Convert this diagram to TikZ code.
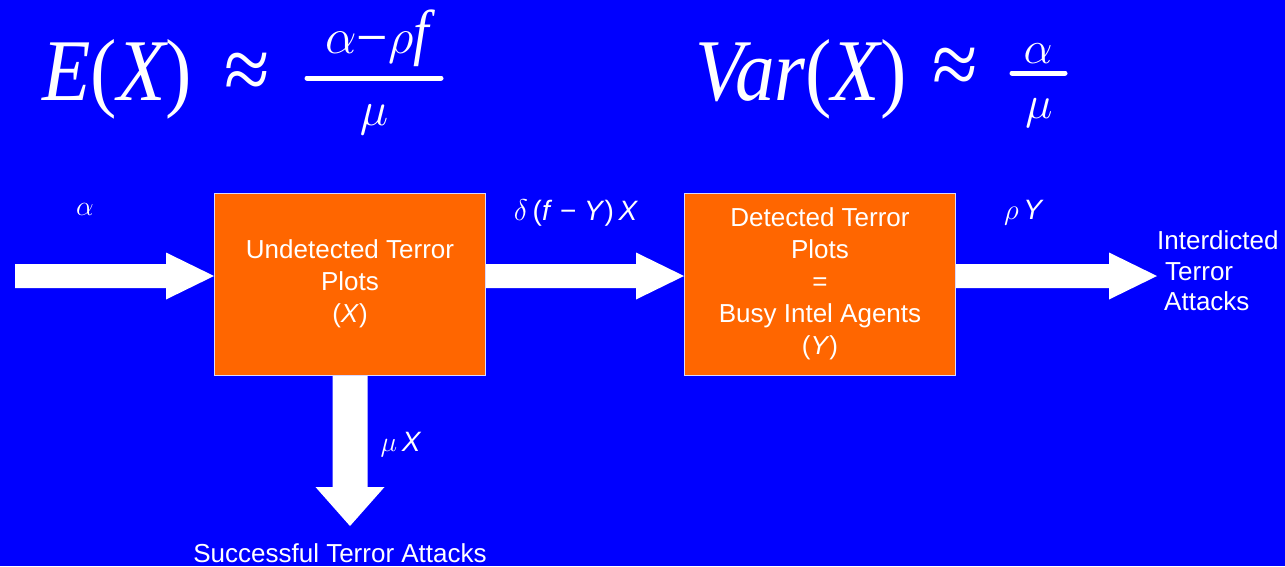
\documentclass[tikz,border=0pt]{standalone}
\usepackage{fix-cm}
\usepackage{fontspec}
\usepackage{graphicx}
\setmainfont{Liberation Sans}
\newfontfamily\serif{Liberation Serif}
\usetikzlibrary{calc,backgrounds}
\definecolor{bg}{RGB}{0,0,255}
\definecolor{boxfill}{RGB}{255,102,0}
\newcommand\gs[2]{{\fontsize{#1}{#1}\selectfont$#2$}}
\newcommand\fm[2]{\scalebox{0.9}[1]{\serif\fontsize{#1}{#1}\selectfont #2}}
\newcommand\harrow[2]{%
  \fill[arrfill] ($(#1)+(0,-12)$) -- ($(#2)+(-48,-12)$) -- ($(#2)+(-48,-23.5)$) -- (#2)
    -- ($(#2)+(-48,23.5)$) -- ($(#2)+(-48,12)$) -- ($(#1)+(0,12)$) -- cycle;}
\begin{document}
\begin{tikzpicture}[x=1pt,y=-1pt,
  plotbox/.style={draw=white!85!blue, line width=1pt, fill=boxfill, minimum width=271pt,
    minimum height=182pt, inner sep=0pt, align=center, text=white,
    font=\fontsize{26}{32}\selectfont},
  lbl/.style={text=white, inner sep=0pt, font=\fontsize{28}{30}\selectfont},
  fml/.style={text=white, inner sep=0pt},
  arrfill/.style={fill=white}]
\useasboundingbox (0,0) rectangle (1285,566);

% formulas
\node[fml, anchor=base] (ex) at (117,100) {\fm{88}{\itshape E\upshape(\itshape X\upshape)}};
\node[fml] (ap1) at (247,77) {\fm{92}{≈}};
\node[fml, anchor=base] (n1) at (377,53) {\gs{50}{\alpha}\fm{62}{\raisebox{-5pt}{−}}\gs{50}{\rho}\fm{62}{\itshape f}};
\node[fml, anchor=base] (d1) at (374,125) {\gs{48}{\mu}};
\coordinate (f1a) at (307,78);
\coordinate (f1b) at (441,78);
\draw[white, line width=5pt, line cap=round] (f1a) -- (f1b);

\node[fml, anchor=base] (vx) at (801,100) {\fm{88}{\itshape Var\upshape(\itshape X\upshape)}};
\node[fml] (ap2) at (955,72) {\fm{92}{≈}};
\node[fml, anchor=base] (n2) at (1038,63) {\gs{46}{\alpha}};
\node[fml, anchor=base] (d2) at (1039,118) {\gs{46}{\mu}};
\coordinate (f2a) at (1012,73);
\coordinate (f2b) at (1065,73);
\draw[white, line width=5pt, line cap=round] (f2a) -- (f2b);

% boxes
\node[plotbox] (b1) at (350,284) {Undetected Terror\\Plots\\(\textit{X})};
\node[plotbox] (b2) at (820,284) {Detected Terror\\Plots\\=\\Busy Intel Agents\\(\textit{Y})};

% end texts
\node[text=white, inner sep=0pt, anchor=west, align=left, font=\fontsize{26}{30.5}\selectfont]
  (it) at (1157,271) {Interdicted\\\hspace*{8pt}Terror\\\hspace*{7pt}Attacks};
\node[text=white, inner sep=0pt, font=\fontsize{26}{30}\selectfont] (sta) at (340,553) {Successful Terror Attacks};

% labels
\node[lbl] (la) at (85,209) {\gs{28}{\alpha}};
\node[lbl] (ld) at (576,213) {\gs{30}{\delta}\,(\textit{f}\ −\ \textit{Y})\,\textit{X}};
\node[lbl] (lr) at (1024,213) {\gs{29}{\rho}\,\textit{Y}};
\node[lbl] (lm) at (401,445) {\gs{28}{\mu}\,\textit{X}};

% arrows
\coordinate (a0) at (15,276);
\coordinate (t1) at (b1.west|-a0);
\coordinate (s2) at (b1.east|-a0);
\coordinate (t2) at (b2.west|-a0);
\coordinate (s3) at (b2.east|-a0);
\coordinate (t3) at (it.west|-a0);
\coordinate (dt) at (350,526);
\begin{scope}[on background layer]
\fill[bg] (0,0) rectangle (1285,566);
\harrow{a0}{t1}
\harrow{s2}{t2}
\harrow{s3}{t3}
\fill[arrfill] ($(b1.south)+(-17.5,0)$) -- ($(dt)+(-17.5,-39)$) -- ($(dt)+(-34.5,-39)$) -- (dt)
  -- ($(dt)+(34.5,-39)$) -- ($(dt)+(17.5,-39)$) -- ($(b1.south)+(17.5,0)$) -- cycle;
\end{scope}
\end{tikzpicture}
\end{document}
